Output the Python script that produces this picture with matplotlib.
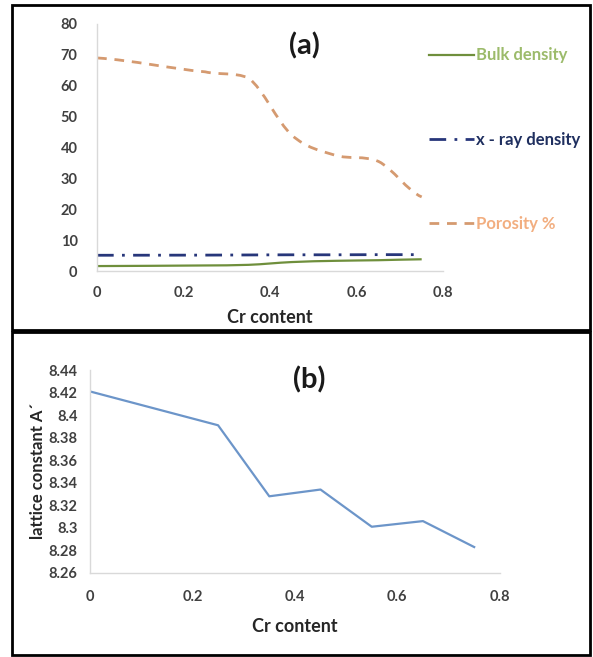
import matplotlib
matplotlib.use("Agg")
import matplotlib.pyplot as plt
from matplotlib.path import Path
from matplotlib.patches import PathPatch, Rectangle
from matplotlib.lines import Line2D

plt.rcParams['font.family'] = ['Lato', 'DejaVu Sans']

# datos panel (a)
cr = [0, 0.25, 0.35, 0.45, 0.55, 0.65, 0.75]
bulk = [1.6, 1.8, 2.0, 2.9, 3.3, 3.5, 3.8]
xray = [5.1, 5.15, 5.2, 5.25, 5.25, 5.3, 5.3]
porosidad = [69, 64.5, 62.5, 44, 37.5, 35.5, 24]
nombres_a = ["Bulk density", "x - ray density", "Porosity %"]

# datos panel (b)
cr_b = [0, 0.25, 0.35, 0.45, 0.55, 0.65, 0.75]
red = [8.421, 8.391, 8.328, 8.334, 8.301, 8.306, 8.283]
ticks_b = [8.26, 8.28, 8.30, 8.32, 8.34, 8.36, 8.38, 8.40, 8.42, 8.44]
etiquetas_b = ["8.26", "8.28", "8.3", "8.32", "8.34", "8.36", "8.38", "8.4", "8.42", "8.44"]
ticks_x = [0, 0.2, 0.4, 0.6, 0.8]
etiquetas_x = ["0", "0.2", "0.4", "0.6", "0.8"]


def curva_suave(x, y):
    # linea suavizada tipo Excel (Bezier), sin pasarse de los puntos
    n = len(x)
    verts = [(x[0], y[0])]
    codes = [Path.MOVETO]
    for i in range(n - 1):
        x0, y0 = (x[i - 1], y[i - 1]) if i > 0 else (x[i], y[i])
        x3, y3 = (x[i + 2], y[i + 2]) if i + 2 < n else (x[i + 1], y[i + 1])
        lo, hi = min(y[i], y[i + 1]), max(y[i], y[i + 1])
        c1y = min(max(y[i] + (y[i + 1] - y0) / 6, lo), hi)
        c2y = min(max(y[i + 1] - (y3 - y[i]) / 6, lo), hi)
        c1 = (x[i] + (x[i + 1] - x[i]) / 3, c1y)
        c2 = (x[i + 1] - (x[i + 1] - x[i]) / 3, c2y)
        verts += [c1, c2, (x[i + 1], y[i + 1])]
        codes += [Path.CURVE4] * 3
    return Path(verts, codes)


fig = plt.figure(figsize=(5.93, 6.57), dpi=100)

gris = '#d9d9d9'
col_tick = '#404040'

# ---------- panel (a)
ax = fig.add_axes([0.1636, 0.5875, 0.584, 0.376])
estilos = [
    dict(color='#6F8F3C', lw=1.6, ls='-'),
    dict(color='#27367A', lw=2.0, ls=(0, (6, 3, 1, 3))),
    dict(color='#D59A70', lw=2.0, ls=(0, (3.5, 2.8))),
]
colores_txt = ['#9CBB6B', '#1F2F5F', '#F2AE80']
manijas = []
for serie, est in zip([bulk, xray, porosidad], estilos):
    ax.add_patch(PathPatch(curva_suave(cr, serie), fill=False, edgecolor=est['color'],
                           lw=est['lw'], ls=est['ls'], capstyle='butt'))
    manijas.append(Line2D([], [], color=est['color'], lw=est['lw'], ls=est['ls']))

ax.set_xlim(0, 0.8)
ax.set_ylim(0, 80)
ax.set_xticks(ticks_x)
ax.set_xticklabels(etiquetas_x)
ax.set_yticks(range(0, 90, 10))
ax.set_xlabel("Cr content", fontsize=13, fontweight='bold', color='#262626', labelpad=6)
ax.text(0.6, 0.91, "(a)", transform=ax.transAxes, ha='center', va='center',
        fontsize=21, fontweight='bold', color='#1a1a1a')

leg = ax.legend(manijas, nombres_a, loc='upper left', bbox_to_anchor=(0.96, 0.905),
                frameon=False, fontsize=12, handlelength=2.7, handletextpad=0.1,
                labelspacing=4.1, borderpad=0, borderaxespad=0)
for t, c in zip(leg.get_texts(), colores_txt):
    t.set_color(c)
    t.set_fontweight('bold')

# ---------- panel (b)
ax2 = fig.add_axes([0.1518, 0.1279, 0.691, 0.3089])
ax2.plot(cr_b, red, color='#6C95C9', lw=1.6)
ax2.set_xlim(0, 0.8)
ax2.set_ylim(8.26, 8.44)
ax2.set_xticks(ticks_x)
ax2.set_xticklabels(etiquetas_x)
ax2.set_yticks(ticks_b)
ax2.set_yticklabels(etiquetas_b)
ax2.set_xlabel("Cr content", fontsize=13, fontweight='bold', color='#262626', labelpad=10)
ax2.set_ylabel("lattice constant A\u02ca", fontsize=12, fontweight='bold', color='#262626', labelpad=2)
ax2.text(0.535, 0.95, "(b)", transform=ax2.transAxes, ha='center', va='center',
         fontsize=21, fontweight='bold', color='#1a1a1a')

for a, px, py in [(ax, 14, 11), (ax2, 9, 12)]:
    for s in ['top', 'right']:
        a.spines[s].set_visible(False)
    for s in ['left', 'bottom']:
        a.spines[s].set_color(gris)
        a.spines[s].set_linewidth(1)
    a.tick_params(axis='both', length=0, labelsize=10.5, colors=col_tick)
    a.tick_params(axis='y', pad=px)
    a.tick_params(axis='x', pad=py)
    for lab in a.get_xticklabels() + a.get_yticklabels():
        lab.set_fontweight('bold')

# marcos negros de cada panel
fig.patches.append(Rectangle((12 / 593, 1 - 330 / 657), 578 / 593, 325 / 657,
                             transform=fig.transFigure, fill=False, edgecolor='black', lw=2))
fig.patches.append(Rectangle((12 / 593, 1 - 655 / 657), 578 / 593, 323 / 657,
                             transform=fig.transFigure, fill=False, edgecolor='black', lw=2))

fig.savefig("out.png", dpi=100)
